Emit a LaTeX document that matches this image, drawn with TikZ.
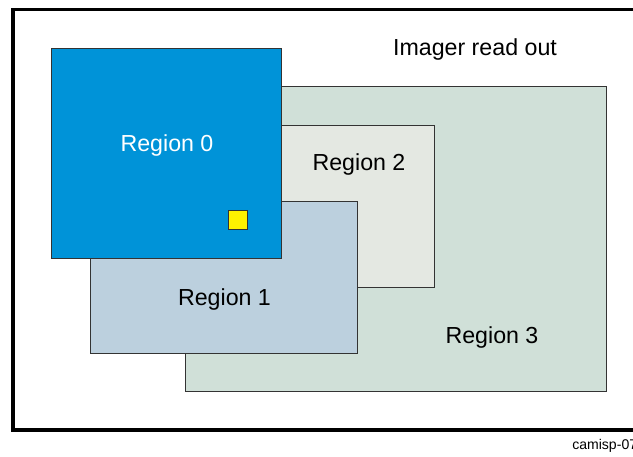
\documentclass[tikz,border=0pt]{standalone}
\usepackage{fontspec}
\setmainfont{Liberation Sans}
\definecolor{regzero}{RGB}{0,147,216}
\definecolor{regone}{RGB}{188,208,222}
\definecolor{regtwo}{RGB}{228,232,226}
\definecolor{regthree}{RGB}{208,224,216}
\definecolor{pixyellow}{RGB}{255,242,0}
\begin{document}
\begin{tikzpicture}[x=0.025cm, y=-0.025cm,
    region/.style={draw=black!80, line width=0.7pt},
    rlabel/.style={anchor=base, inner sep=0pt, font=\fontsize{16.5}{19}\selectfont}
  ]
    \useasboundingbox (0,0) rectangle (633,456);
    \clip (0,0) rectangle (633,456);

    % Outer frame
    \draw[line width=2.6pt] (650,9.5) -- (13,9.5) -- (13,430) -- (650,430);
    \node[rlabel] (readout) at (475,55) {Imager read out};

    % Regions, back to front
    \filldraw[region, fill=regthree] (185,86) rectangle (606,391);
    \filldraw[region, fill=regtwo] (150,125) rectangle (434,287);
    \filldraw[region, fill=regone] (90,201) rectangle (357,353);
    \filldraw[region, fill=regzero] (51,48) rectangle (281,258);
    \filldraw[region, fill=pixyellow] (228,210) rectangle (247,229);

    \node[rlabel, text=white] (lzero) at (167,151) {Region 0};
    \node[rlabel] (lone) at (224.5,305) {Region 1};
    \node[rlabel] (ltwo) at (359,170) {Region 2};
    \node[rlabel] (lthree) at (492,343) {Region 3};

    \node[anchor=base west, inner sep=0pt, font=\fontsize{10}{12}\selectfont] (tag) at (572,449) {camisp-07};
\end{tikzpicture}
\end{document}
